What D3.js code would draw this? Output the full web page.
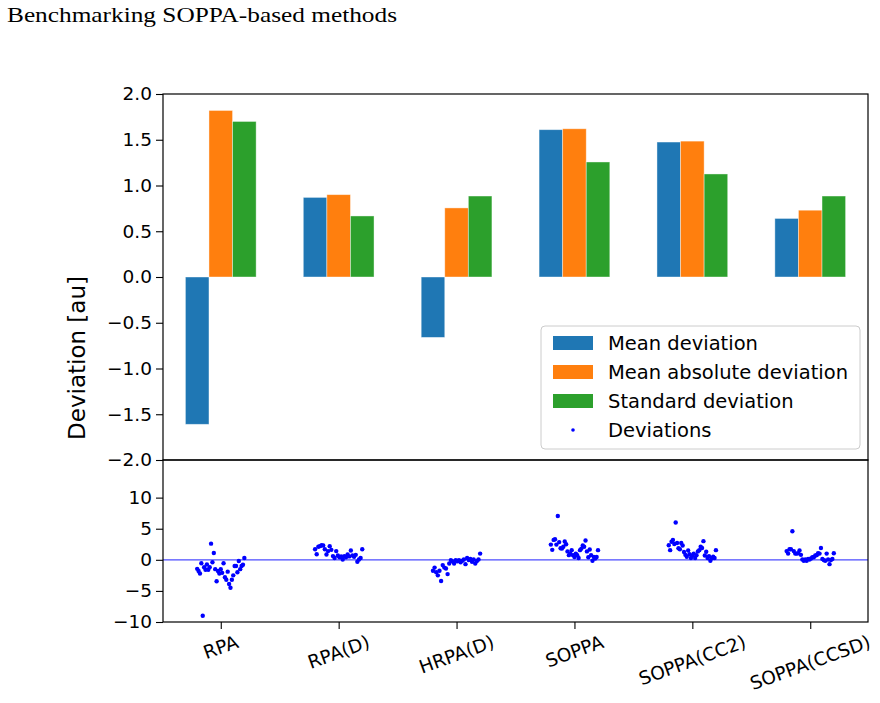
<!DOCTYPE html>
<html>
<head>
<meta charset="utf-8">
<script src="https://cdn.jsdelivr.net/npm/d3@7"></script>
<style>
  body { margin: 0; background: #fff; }
  svg { display: block; }
  text { font-family: 'DejaVu Sans', sans-serif; }
</style>
</head>
<body>
<svg id="chart"></svg>
<script>
const width = 880, height = 703;

// methods on the x axis
const methods = ["RPA", "RPA(D)", "HRPA(D)", "SOPPA", "SOPPA(CC2)", "SOPPA(CCSD)"];

// bar series
const meanDev    = [-1.61, 0.87, -0.66, 1.61, 1.475, 0.64];
const meanAbsDev = [1.82, 0.90, 0.755, 1.62, 1.485, 0.73];
const stdDev     = [1.70, 0.667, 0.885, 1.257, 1.126, 0.885];

// individual deviations per method, in plotting order
const devRPA = [-1.45, -1.8, -2.2, -0.55, -9.0, -1.2, -1.6, -0.75, -1.6, -1.2, 2.6, -0.4, 1.1, -1.5, -3.45, -1.8,
  -2.2, -1.5, -2.1, -0.55, -2.8, -3.2, -1.9, -3.9, -4.5, -3.2, -2.5, -1.0, -1.0, -2.0, -0.2, -1.5, -1.0, -0.8, 0.3];
const devRPAD = [1.7, 0.9, 2.1, 2.2, 2.35, 2.3, 1.7, 0.85, 1.4, 2.2, 1.6, 0.6, 0.3, 1.4, 0.7, 0.4, 0.55, 0.05,
  0.6, 0.4, 0.85, 0.55, 1.5, 0.7, 0.5, 0.8, -0.3, 0.05, 0.3, 1.7];
const devHRPAD = [-1.75, -1.25, -2.0, -2.5, -1.75, -3.4, -0.85, -1.25, -1.4, -2.3, -0.6, -0.05, -0.25, -0.6, -0.05,
  -0.25, -0.05, -0.4, -0.15, 0.05, -0.7, 0.3, -0.05, 0.15, -0.3, 0.05, -0.6, -0.2, 0.05, 1.0];
const devSOPPA = [2.45, 1.6, 3.2, 3.3, 2.45, 7.05, 2.85, 1.85, 1.8, 2.1, 2.95, 2.5, 1.35, 0.75, 1.0, 1.55, 0.75,
  0.45, 1.0, 0.75, 0.3, 1.55, 1.8, 2.3, 2.1, 3.1, 1.35, 0.4, 1.65, 0.75, -0.15, 0.45, 0.2, 0.45, 1.55];
const devCC2 = [2.35, 1.55, 2.9, 3.2, 2.55, 6.0, 2.7, 1.85, 1.7, 2.7, 2.3, 1.25, 0.8, 0.5, 1.5, 0.9, 0.3, 0.7,
  1.0, 0.3, 0.75, 1.35, 1.55, 2.1, 1.9, 3.0, 0.7, 1.3, 0.3, 0.6, -0.15, 0.25, 0.5, 0.3, 1.55];
const devCCSD = [1.4, 1.0, 1.7, 1.7, 4.6, 1.4, 1.0, 1.0, 1.05, 1.5, 0.8, 0.05, -0.15, 0.05, -0.15, 0.15, 0.05,
  0.2, 0.4, 0.4, 0.7, 0.75, 1.05, 1.0, 1.9, 0.15, -0.05, -0.15, 1.0, 0.05, -0.7, -0.05, 0.15, 1.05];
const deviations = [devRPA, devRPAD, devHRPAD, devSOPPA, devCC2, devCCSD];

const seriesNames = ["Mean deviation", "Mean absolute deviation", "Standard deviation"];
const seriesColors = ["#1f77b4", "#ff7f0e", "#2ca02c"];
const barSeries = [meanDev, meanAbsDev, stdDev];

const topTicks = [2.0, 1.5, 1.0, 0.5, 0.0, -0.5, -1.0, -1.5, -2.0];
const bottomTicks = [10, 5, 0, -5, -10];

const left = 163, right = 868;
const topY0 = 94, topY1 = 460, botY1 = 622;
const font = "'DejaVu Sans', sans-serif";
const tickFont = "18.5px";

const svg = d3.select("#chart").attr("width", width).attr("height", height);

const x = d3.scaleLinear().domain([-0.49, 5.49]).range([left, right]);
const yTop = d3.scaleLinear().domain([-2, 2]).range([topY1, topY0]);
const yBot = d3.scaleLinear().domain([-10, 16.05]).range([botY1, topY1]);

const fmtMinus = s => s.replace("-", "\u2212");
const barW = x(0.2) - x(0);

// title
svg.append("text")
  .attr("x", 7).attr("y", 22)
  .style("font-family", "'Liberation Serif', serif")
  .attr("font-size", 21)
  .attr("textLength", 390)
  .attr("lengthAdjust", "spacingAndGlyphs")
  .text("Benchmarking SOPPA-based methods");

// bars
barSeries.forEach((vals, s) => {
  svg.append("g").selectAll("rect")
    .data(vals)
    .join("rect")
    .attr("x", (d, i) => x(i + (s - 1) * 0.2) - barW / 2)
    .attr("y", d => yTop(Math.max(0, d)))
    .attr("width", barW)
    .attr("height", d => Math.abs(yTop(d) - yTop(0)))
    .attr("fill", seriesColors[s])
    .attr("stroke", "#fff").attr("stroke-opacity", 0.5).attr("stroke-width", 0.8);
});

// top axis frame
const axTop = svg.append("g")
  .attr("transform", `translate(${left},0)`)
  .call(d3.axisLeft(yTop).tickValues(topTicks).tickFormat(d => fmtMinus(d3.format(".1f")(d))).tickSize(7).tickPadding(4));

svg.append("rect")
  .attr("x", left).attr("y", topY0).attr("width", right - left).attr("height", topY1 - topY0)
  .attr("fill", "none").attr("stroke", "#000").attr("stroke-width", 1.2);

// zero line in bottom panel
svg.append("line")
  .attr("x1", left).attr("x2", right)
  .attr("y1", yBot(0)).attr("y2", yBot(0))
  .attr("stroke", "#0000ff").attr("stroke-opacity", 0.7).attr("stroke-width", 1.2);

// deviation points
deviations.forEach((vals, i) => {
  const n = vals.length;
  svg.append("g").selectAll("circle")
    .data(vals)
    .join("circle")
    .attr("cx", (d, j) => x(i - 0.2 + 0.4 * j / (n - 1)))
    .attr("cy", d => yBot(d))
    .attr("r", 2.2)
    .attr("fill", "#0000ff");
});

const axBot = svg.append("g")
  .attr("transform", `translate(${left},0)`)
  .call(d3.axisLeft(yBot).tickValues(bottomTicks).tickFormat(d => fmtMinus(String(d))).tickSize(7).tickPadding(4));

const axX = svg.append("g")
  .attr("transform", `translate(0,${botY1})`)
  .call(d3.axisBottom(x).tickValues(d3.range(methods.length)).tickFormat("").tickSize(7));

svg.append("rect")
  .attr("x", left).attr("y", topY1).attr("width", right - left).attr("height", botY1 - topY1)
  .attr("fill", "none").attr("stroke", "#000").attr("stroke-width", 1.2);

[axTop, axBot, axX].forEach(a => {
  a.attr("font-family", null).attr("font-size", null);
  a.select(".domain").remove();
  a.selectAll(".tick line").attr("stroke", "#000").attr("stroke-width", 1.1);
  a.selectAll("text").style("font-family", font).style("font-size", tickFont).attr("fill", "#000");
});

// rotated x labels
const angle = 20 * Math.PI / 180;
methods.forEach((m, i) => {
  const t = svg.append("text")
    .style("font-family", font)
    .style("font-size", tickFont)
    .attr("text-anchor", "middle")
    .attr("dominant-baseline", "central")
    .text(m);
  const w = t.node().getComputedTextLength();
  const h = 17;
  const cx = x(i);
  const cy = botY1 + 11 + (w * Math.sin(angle) + h * Math.cos(angle)) / 2;
  t.attr("x", cx).attr("y", cy).attr("transform", `rotate(-20,${cx},${cy})`);
});

// y label
svg.append("text")
  .attr("transform", `translate(85,${(topY0 + botY1) / 2}) rotate(-90)`)
  .attr("text-anchor", "middle")
  .style("font-family", font)
  .style("font-size", "23px")
  .text("Deviation [au]");

// legend
const lg = svg.append("g").attr("transform", "translate(541,326)");
lg.append("rect")
  .attr("width", 319).attr("height", 123).attr("rx", 4)
  .attr("fill", "#fff").attr("fill-opacity", 0.8)
  .attr("stroke", "#ccc").attr("stroke-width", 1);
seriesNames.forEach((name, k) => {
  const cy = 17 + k * 29;
  lg.append("rect").attr("x", 12).attr("y", cy - 7).attr("width", 40).attr("height", 14).attr("fill", seriesColors[k]);
  lg.append("text").attr("x", 67).attr("y", cy).attr("dy", "0.35em")
    .style("font-family", font).style("font-size", "19.5px").text(name);
});
lg.append("circle").attr("cx", 32).attr("cy", 17 + 3 * 29).attr("r", 1.8).attr("fill", "#0000ff");
lg.append("text").attr("x", 67).attr("y", 17 + 3 * 29).attr("dy", "0.35em")
  .style("font-family", font).style("font-size", "19.5px").text("Deviations");
</script>
</body>
</html>
